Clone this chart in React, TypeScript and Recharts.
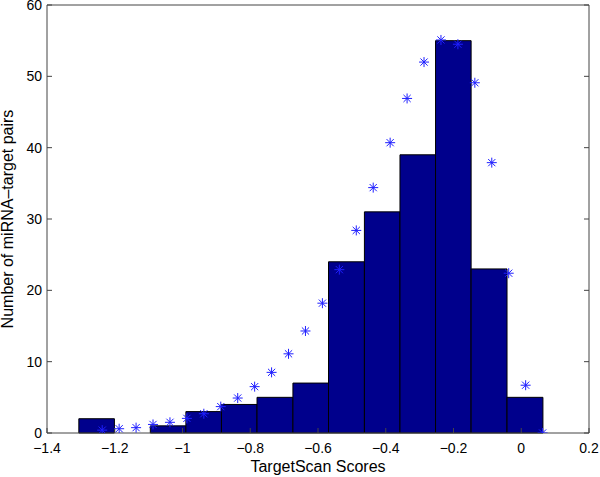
import React from 'react';
import { ComposedChart, XAxis, YAxis, Scatter, ReferenceArea } from 'recharts';

// histogram bins (edges) and counts
const binEdges = [-1.306, -1.201, -1.095, -0.99, -0.885, -0.78, -0.674, -0.569, -0.463, -0.358, -0.253, -0.148, -0.042, 0.064];
const binCounts = [2, 0, 1, 3, 4, 5, 7, 24, 31, 39, 55, 23, 5];

// asterisk series
const fitX = [
	-1.237, -1.187, -1.137, -1.087, -1.037, -0.987, -0.937, -0.887, -0.837, -0.787, -0.737, -0.687, -0.637, -0.587,
	-0.537, -0.487, -0.437, -0.387, -0.337, -0.287, -0.237, -0.187, -0.137, -0.087, -0.037, 0.013, 0.063,
];
const fitY = [
	0.4, 0.6, 0.75, 1.2, 1.5, 2.05, 2.7, 3.7, 4.9, 6.5, 8.5, 11.1, 14.3, 18.2, 22.9, 28.4, 34.4, 40.7, 46.9, 52.0,
	55.1, 54.5, 49.1, 37.9, 22.4, 6.7, 0,
];

const xTicks = [-1.4, -1.2, -1, -0.8, -0.6, -0.4, -0.2, 0, 0.2];
const yTicks = [0, 10, 20, 30, 40, 50, 60];

const FONT = '"Liberation Sans", Arial, Helvetica, sans-serif';
const FRAME = '#444';

const fmt = (v: number) => (v === 0 ? '0' : String(v).replace('-', '\u2212'));

const Asterisk = (props: any) => {
	const { cx, cy } = props;
	if (cx == null || cy == null) return null;
	const r = 5;
	const d = r * 0.72;
	return (
		<g stroke="#1f1fff" strokeWidth={1}>
			<line x1={cx - r} y1={cy} x2={cx + r} y2={cy} />
			<line x1={cx} y1={cy - r} x2={cx} y2={cy + r} />
			<line x1={cx - d} y1={cy - d} x2={cx + d} y2={cy + d} />
			<line x1={cx - d} y1={cy + d} x2={cx + d} y2={cy - d} />
		</g>
	);
};

const XLabel = (props: any) => {
	const vb = props.viewBox;
	return (
		<text x={vb.x + vb.width / 2} y={vb.y + 39} textAnchor="middle" fontSize={16} fontFamily={FONT} fill="#000">
			TargetScan Scores
		</text>
	);
};

const YLabel = (props: any) => {
	const vb = props.viewBox;
	const x = 13;
	const y = vb.y + vb.height / 2;
	return (
		<text x={x} y={y} transform={`rotate(-90, ${x}, ${y})`} textAnchor="middle" fontSize={16} fontFamily={FONT} fill="#000">
			Number of miRNA{'\u2013'}target pairs
		</text>
	);
};

const App = () => {
	const stars = fitX.map((x, i) => ({ x, y: fitY[i] }));
	const tickStyle = { fontSize: 14, fontFamily: FONT, fill: '#000' };

	return (
		<div style={{ position: 'absolute', left: 0, top: 0, background: '#fff' }}>
			<ComposedChart width={600} height={477} margin={{ top: 4, right: 10, left: 0, bottom: 0 }}>
				<XAxis
					dataKey="x"
					type="number"
					domain={[-1.4, 0.2]}
					ticks={xTicks}
					interval={0}
					allowDataOverflow
					height={44}
					tickSize={-5}
					tickMargin={15}
					tickFormatter={fmt}
					tick={tickStyle}
					stroke={FRAME}
					label={<XLabel />}
				/>
				<XAxis
					xAxisId="top"
					orientation="top"
					type="number"
					domain={[-1.4, 0.2]}
					ticks={xTicks}
					interval={0}
					allowDataOverflow
					height={1}
					tickSize={-5}
					tick={() => <g />}
					stroke={FRAME}
				/>
				<YAxis
					type="number"
					domain={[0, 60]}
					ticks={yTicks}
					interval={0}
					allowDataOverflow
					width={47}
					tickSize={-5}
					tickMargin={10}
					tick={tickStyle}
					stroke={FRAME}
					label={<YLabel />}
				/>
				<YAxis
					yAxisId="right"
					orientation="right"
					type="number"
					domain={[0, 60]}
					ticks={yTicks}
					interval={0}
					allowDataOverflow
					width={1}
					tickSize={-5}
					tick={() => <g />}
					stroke={FRAME}
				/>
				{binCounts.map((c, i) =>
					c > 0 ? (
						<ReferenceArea
							key={i}
							x1={binEdges[i]}
							x2={binEdges[i + 1]}
							y1={0}
							y2={c}
							fill="#00008c"
							fillOpacity={1}
							stroke="#000"
							strokeWidth={1}
						/>
					) : null
				)}
				<Scatter data={stars} dataKey="y" shape={<Asterisk />} isAnimationActive={false} />
			</ComposedChart>
		</div>
	);
};

export default App;
